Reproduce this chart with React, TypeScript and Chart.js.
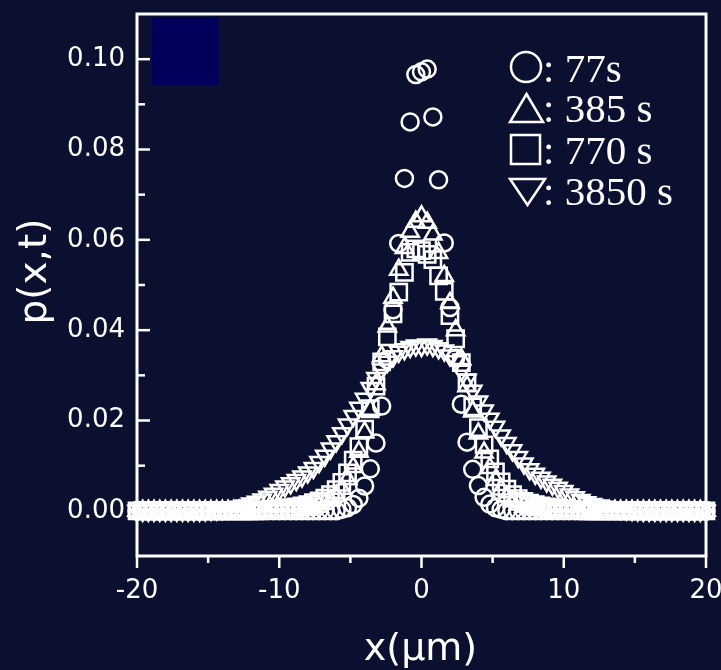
import React, { useEffect, useRef } from 'react';
import { Chart, registerables } from 'chart.js';

Chart.register(...registerables);

// x positions (µm)
const XS = [
  -20, -19.6, -19.2, -18.8, -18.4, -18, -17.6, -17.2, -16.8, -16.4,
  -16, -15.6, -15.2, -14.8, -14.4, -14, -13.6, -13.2, -12.8, -12.4,
  -12, -11.6, -11.2, -10.8, -10.4, -10, -9.6, -9.2, -8.8, -8.4,
  -8, -7.6, -7.2, -6.8, -6.4, -6, -5.6, -5.2, -4.8, -4.4,
  -4, -3.6, -3.2, -2.8, -2.4, -2, -1.6, -1.2, -0.8, -0.4,
  0,
  0.4, 0.8, 1.2, 1.6, 2, 2.4, 2.8, 3.2, 3.6, 4,
  4.4, 4.8, 5.2, 5.6, 6, 6.4, 6.8, 7.2, 7.6, 8,
  8.4, 8.8, 9.2, 9.6, 10, 10.4, 10.8, 11.2, 11.6, 12,
  12.4, 12.8, 13.2, 13.6, 14, 14.4, 14.8, 15.2, 15.6, 16,
  16.4, 16.8, 17.2, 17.6, 18, 18.4, 18.8, 19.2, 19.6, 20,
];

// p(x,t) at 77 s (circles)
const P77 = [
  0, 0, 0, 0, 0, 0, 0, 0, 0, 0,
  0, 0, 0, 0, 0, 0, 0, 0, 0, 0,
  0, 0, 0, 0, 0, 0, 0, 0, 0, 0,
  0, 0, 0, 0, 0, 0, 0.0003, 0.0007, 0.0014, 0.0028,
  0.0055, 0.0093, 0.0150, 0.0232, 0.0335, 0.0445, 0.0592, 0.0736, 0.0861, 0.0966,
  0.0972,
  0.0978, 0.0872, 0.0733, 0.0593, 0.0450, 0.0338, 0.0236, 0.0152, 0.0092, 0.0056,
  0.0030, 0.0015, 0.0007, 0.0003, 0, 0, 0, 0, 0, 0,
  0, 0, 0, 0, 0, 0, 0, 0, 0, 0,
  0, 0, 0, 0, 0, 0, 0, 0, 0, 0,
  0, 0, 0, 0, 0, 0, 0, 0, 0, 0,
];

// p(x,t) at 385 s (triangles)
const P385 = [
  0, 0, 0, 0, 0, 0, 0, 0, 0, 0,
  0, 0, 0, 0, 0, 0, 0, 0, 0, 0,
  0, 0, 0, 0, 0, 0, 0, 0, 0.0001, 0.0002,
  0.0003, 0.0005, 0.0009, 0.0015, 0.0023, 0.0034, 0.0049, 0.0070, 0.0097, 0.0131,
  0.0174, 0.0224, 0.0280, 0.0342, 0.0408, 0.0472, 0.0534, 0.0582, 0.0618, 0.0640,
  0.0652,
  0.0638, 0.0612, 0.0571, 0.0520, 0.0460, 0.0400, 0.0336, 0.0276, 0.0220, 0.0171,
  0.0129, 0.0095, 0.0068, 0.0047, 0.0032, 0.0021, 0.0014, 0.0009, 0.0005, 0.0003,
  0.0002, 0.0001, 0, 0, 0, 0, 0, 0, 0, 0,
  0, 0, 0, 0, 0, 0, 0, 0, 0, 0,
  0, 0, 0, 0, 0, 0, 0, 0, 0, 0,
];

// p(x,t) at 770 s (squares)
const P770 = [
  0, 0, 0, 0, 0, 0, 0, 0, 0, 0,
  0, 0, 0, 0, 0, 0, 0, 0, 0, 0,
  0, 0, 0.0001, 0.0002, 0.0003, 0.0004, 0.0005, 0.0007, 0.0009, 0.0011,
  0.0014, 0.0018, 0.0022, 0.0028, 0.0036, 0.0047, 0.0063, 0.0084, 0.0112, 0.0142,
  0.0181, 0.0226, 0.0276, 0.0330, 0.0385, 0.0436, 0.0484, 0.0528, 0.0572, 0.0580,
  0.0576,
  0.0568, 0.0556, 0.0520, 0.0486, 0.0432, 0.0381, 0.0328, 0.0284, 0.0230, 0.0184,
  0.0146, 0.0115, 0.0086, 0.0064, 0.0048, 0.0036, 0.0027, 0.0021, 0.0017, 0.0014,
  0.0011, 0.0009, 0.0007, 0.0005, 0.0004, 0.0003, 0.0002, 0.0001, 0, 0,
  0, 0, 0, 0, 0, 0, 0, 0, 0, 0,
  0, 0, 0, 0, 0, 0, 0, 0, 0, 0,
];

// p(x,t) at 3850 s (inverted triangles)
const P3850 = [
  0, 0, 0, 0, 0, 0, 0, 0, 0, 0,
  0, 0, 0.0001, 0.0002, 0.0003, 0.0004, 0.0005, 0.0007, 0.0009, 0.0012,
  0.0016, 0.0020, 0.0025, 0.0031, 0.0038, 0.0046, 0.0054, 0.0061, 0.0068, 0.0076,
  0.0085, 0.0095, 0.0108, 0.0122, 0.0138, 0.0154, 0.0172, 0.0191, 0.0210, 0.0228,
  0.0248, 0.0272, 0.0294, 0.0313, 0.0330, 0.0342, 0.0352, 0.0358, 0.0363, 0.0366,
  0.0365,
  0.0368, 0.0365, 0.0360, 0.0355, 0.0344, 0.0331, 0.0310, 0.0290, 0.0266, 0.0242,
  0.0222, 0.0204, 0.0186, 0.0167, 0.0150, 0.0134, 0.0119, 0.0105, 0.0092, 0.0082,
  0.0073, 0.0065, 0.0058, 0.0051, 0.0044, 0.0036, 0.0030, 0.0024, 0.0019, 0.0015,
  0.0012, 0.0009, 0.0007, 0.0005, 0.0004, 0.0003, 0.0002, 0.0001, 0, 0,
  0, 0, 0, 0, 0, 0, 0, 0, 0, 0,
];

const LEGEND_LABELS = [': 77s', ': 385 s', ': 770 s', ': 3850 s'];
const X_TITLE = 'x(\u00b5m)';
const Y_TITLE = 'p(x,t)';

const BG = '#0b1031';
const FG = '#ffffff';
const SANS = '"DejaVu Sans", sans-serif';

const decor = {
  id: 'decor',
  beforeDraw(chart: any) {
    const { ctx, width, height } = chart;
    ctx.save();
    ctx.fillStyle = BG;
    ctx.fillRect(0, 0, width, height);
    ctx.restore();
  },
  beforeDatasetsDraw(chart: any) {
    const { ctx } = chart;
    const xs = chart.scales.x;
    const ys = chart.scales.y;
    const x0 = xs.getPixelForValue(-18.95);
    const x1 = xs.getPixelForValue(-14.25);
    const y0 = ys.getPixelForValue(0.1093);
    const y1 = ys.getPixelForValue(0.0943);
    ctx.save();
    ctx.fillStyle = '#00005a';
    ctx.fillRect(x0, y0, x1 - x0, y1 - y0);
    ctx.restore();
  },
  afterDatasetsDraw(chart: any) {
    const { ctx, chartArea } = chart;
    const { left, right, top, bottom } = chartArea;
    const xs = chart.scales.x;
    const ys = chart.scales.y;
    ctx.save();
    ctx.strokeStyle = FG;
    ctx.fillStyle = FG;
    ctx.lineCap = 'butt';
    // y ticks (inward)
    ctx.lineWidth = 2.5;
    ys.ticks.forEach((t: any) => {
      const r = Math.round(t.value * 100);
      if (r < 0 || r > 10) return;
      const py = ys.getPixelForValue(t.value);
      const len = r % 2 === 0 ? 13 : 8;
      ctx.beginPath();
      ctx.moveTo(left, py);
      ctx.lineTo(left + len, py);
      ctx.stroke();
    });
    // x ticks (outward, downward)
    xs.ticks.forEach((t: any) => {
      const px = xs.getPixelForValue(t.value);
      const len = Math.round(t.value) % 10 === 0 ? 12 : 7;
      ctx.beginPath();
      ctx.moveTo(px, bottom);
      ctx.lineTo(px, bottom + len);
      ctx.stroke();
    });
    // frame
    ctx.lineWidth = 3;
    ctx.strokeRect(left, top, right - left, bottom - top);

    // axis titles
    ctx.textAlign = 'center';
    ctx.textBaseline = 'middle';
    ctx.font = `38px ${SANS}`;
    ctx.fillText(X_TITLE, (left + right) / 2 - 1, 650);
    ctx.save();
    ctx.translate(36, 271.5);
    ctx.rotate(-Math.PI / 2);
    ctx.font = `39px ${SANS}`;
    ctx.fillText(Y_TITLE, 0, 0);
    ctx.restore();

    // legend
    const lx = right - 196;
    const bases = [top + 68, top + 108, top + 150, top + 191];
    ctx.lineWidth = 2.5;
    ctx.beginPath();
    ctx.arc(lx + 16, bases[0] - 15, 15, 0, Math.PI * 2);
    ctx.stroke();
    ctx.beginPath();
    ctx.moveTo(lx + 16.5, bases[1] - 28);
    ctx.lineTo(lx + 33, bases[1]);
    ctx.lineTo(lx, bases[1]);
    ctx.closePath();
    ctx.stroke();
    ctx.strokeRect(lx + 1, bases[2] - 29, 29, 29);
    ctx.beginPath();
    ctx.moveTo(lx, bases[3] - 26);
    ctx.lineTo(lx + 35, bases[3] - 26);
    ctx.lineTo(lx + 17.5, bases[3]);
    ctx.closePath();
    ctx.stroke();

    ctx.textAlign = 'left';
    ctx.textBaseline = 'alphabetic';
    ctx.font = '41px "Liberation Serif", serif';
    LEGEND_LABELS.forEach((s, i) => ctx.fillText(s, lx + 33, bases[i]));
    ctx.restore();
  },
};

function pts(ys: number[]) {
  return XS.map((x, i) => ({ x, y: ys[i] }));
}

export default function App() {
  const ref = useRef<HTMLCanvasElement | null>(null);
  useEffect(() => {
    if (!ref.current) return;
    const common = {
      showLine: false,
      borderColor: FG,
      backgroundColor: 'rgba(0,0,0,0)',
      borderWidth: 2.5,
      clip: false as any,
    };
    const chart = new Chart(ref.current, {
      type: 'scatter',
      data: {
        datasets: [
          { ...common, label: '77s', data: pts(P77), pointStyle: 'circle', pointRadius: 8.5 },
          { ...common, label: '385 s', data: pts(P385), pointStyle: 'triangle', pointRadius: 10 },
          { ...common, label: '770 s', data: pts(P770), pointStyle: 'rect', pointRadius: 11.5 },
          { ...common, label: '3850 s', data: pts(P3850), pointStyle: 'triangle', pointRotation: 180, pointRadius: 10 },
        ] as any,
      },
      options: {
        responsive: false,
        animation: false,
        events: [],
        layout: { padding: { top: 12, right: 15, left: 0, bottom: 0 } },
        plugins: { legend: { display: false }, tooltip: { enabled: false } },
        scales: {
          x: {
            type: 'linear',
            min: -20,
            max: 20,
            grid: { display: false, drawTicks: false },
            border: { display: false },
            ticks: {
              stepSize: 5,
              autoSkip: false,
              maxRotation: 0,
              padding: 20,
              color: FG,
              font: { family: SANS, size: 26 },
              callback: (v: any) => (Math.round(v) % 10 === 0 ? String(Math.round(v)) : ''),
            },
            afterFit: (s: any) => {
              s.height = 114;
              s.paddingLeft = 0;
              s.paddingRight = 0;
            },
          },
          y: {
            type: 'linear',
            min: -0.01,
            max: 0.11,
            grid: { display: false, drawTicks: false },
            border: { display: false },
            ticks: {
              stepSize: 0.01,
              autoSkip: false,
              padding: 12,
              color: FG,
              font: { family: SANS, size: 26 },
              callback: (v: any) => {
                const r = Math.round(v * 100);
                return r >= 0 && r <= 10 && r % 2 === 0 ? (r / 100).toFixed(2) : '';
              },
            },
            afterFit: (s: any) => {
              s.width = 137;
              s.paddingTop = 0;
              s.paddingBottom = 0;
            },
          },
        },
      } as any,
      plugins: [decor],
    });
    return () => chart.destroy();
  }, []);
  return (
    <div style={{ position: 'fixed', left: 0, top: 0, width: 721, height: 670, background: BG }}>
      <canvas ref={ref} width={721} height={670} style={{ display: 'block', width: 721, height: 670 }} />
    </div>
  );
}
